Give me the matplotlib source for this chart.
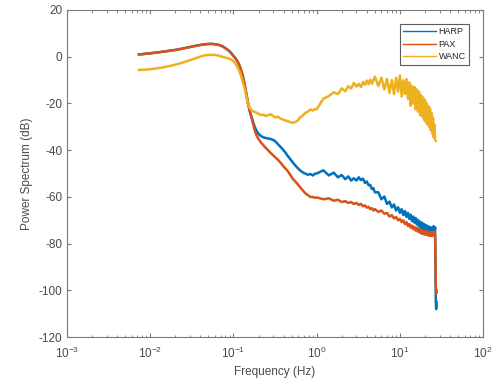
import numpy as np
import matplotlib
matplotlib.use("Agg")
import matplotlib.pyplot as plt
from matplotlib.lines import Line2D

plt.rcParams['font.family'] = ['Liberation Sans', 'DejaVu Sans']
plt.rcParams['mathtext.fontset'] = 'custom'
plt.rcParams['mathtext.rm'] = 'Liberation Sans'
plt.rcParams['mathtext.it'] = 'Liberation Sans'
plt.rcParams['axes.unicode_minus'] = False

series_names = ["HARP", "PAX", "WANC"]

freq = [
    0.0073, 0.008, 0.009, 0.010, 0.012, 0.014, 0.016, 0.018, 0.020, 0.023,
    0.026, 0.030, 0.034, 0.038, 0.043, 0.048, 0.053, 0.058, 0.064, 0.070,
    0.076, 0.082, 0.088, 0.094, 0.100, 0.106, 0.112, 0.118, 0.124, 0.130,
    0.136, 0.142, 0.148, 0.155, 0.162, 0.170, 0.180, 0.190, 0.200, 0.215,
    0.230, 0.245, 0.260, 0.280, 0.300, 0.320, 0.340, 0.365, 0.390, 0.420,
    0.450, 0.480, 0.510, 0.550, 0.590, 0.630, 0.680, 0.730, 0.780, 0.840,
    0.900, 0.960,
    1.0, 1.2, 1.4, 1.6, 1.8, 2.0, 2.2, 2.4, 2.6, 2.8,
    3.0, 3.2, 3.4, 3.6, 3.8, 4.0, 4.2, 4.4, 4.6, 4.8,
    5.0, 5.5, 6.0, 6.5, 7.0, 7.5, 8.0, 8.5, 9.0, 9.5,
    10.0, 10.5, 11.0, 11.5, 12.0, 12.5, 13.0, 13.5, 14.0, 14.5,
    15.0, 15.5, 16.0, 16.5, 17.0, 17.5, 18.0, 18.5, 19.0, 19.5,
    20.0, 20.5, 21.0, 21.5, 22.0, 22.5, 23.0, 23.5, 24.0, 24.5,
    25.0, 25.5, 26.0, 26.5, 27.0, 27.3, 27.5,
]

harp = [
    1.0, 1.1, 1.3, 1.5, 1.8, 2.1, 2.4, 2.7, 2.9, 3.3,
    3.7, 4.2, 4.6, 4.9, 5.2, 5.4, 5.5, 5.4, 5.2, 4.8,
    4.2, 3.4, 2.6, 1.5, 0.3, -0.8, -2.0, -3.8, -6.0, -8.5,
    -11.8, -15.5, -19.0, -22.5, -25.0, -27.3, -30.0, -31.8, -33.0, -34.0,
    -34.5, -34.8, -35.0, -35.2, -35.6, -36.3, -37.3, -38.5, -39.6, -41.0,
    -42.5, -43.8, -45.0, -46.4, -47.6, -48.6, -49.5, -50.0, -50.5, -50.2,
    -50.8, -50.0,
    -50.0, -48.6, -50.8, -49.6, -51.6, -50.6, -52.4, -51.2, -53.0, -52.0,
    -53.0, -51.6, -52.8, -52.2, -54.0, -53.4, -55.0, -54.8, -56.6, -56.2,
    -58.0, -58.0, -61.0, -59.8, -63.0, -62.0, -64.5, -63.2, -65.8, -64.4,
    -66.8, -65.2, -67.8, -66.0, -68.6, -66.8, -69.4, -67.6, -70.4, -68.4,
    -71.0, -69.0, -71.8, -69.8, -72.6, -70.6, -73.2, -71.0, -73.8, -71.6,
    -74.2, -72.0, -74.6, -72.4, -75.0, -72.8, -75.2, -73.0, -75.4, -73.2,
    -75.2, -72.5, -75.5, -73.0, -104.0, -108.0, -105.0,
]

pax = [
    1.0, 1.1, 1.3, 1.5, 1.8, 2.1, 2.4, 2.7, 2.9, 3.3,
    3.7, 4.2, 4.6, 4.9, 5.2, 5.4, 5.5, 5.4, 5.2, 4.8,
    4.2, 3.4, 2.6, 1.5, 0.3, -0.8, -2.0, -3.8, -6.0, -8.5,
    -11.8, -15.5, -19.0, -22.5, -25.2, -28.0, -31.5, -33.8, -35.2, -36.8,
    -38.0, -39.0, -40.0, -41.2, -42.2, -43.2, -44.0, -45.2, -46.5, -47.8,
    -49.0, -50.5, -52.0, -53.3, -54.5, -55.8, -57.2, -58.4, -59.2, -60.0,
    -60.0, -60.4,
    -60.2, -61.0, -60.6, -61.6, -61.2, -62.2, -61.8, -62.6, -62.2, -63.0,
    -62.6, -63.4, -63.0, -64.0, -63.6, -64.6, -64.2, -65.2, -64.8, -65.8,
    -65.2, -66.4, -65.8, -67.2, -66.8, -68.4, -67.8, -69.2, -68.6, -70.0,
    -69.4, -70.8, -70.0, -71.6, -70.8, -72.4, -71.6, -73.2, -72.2, -73.8,
    -72.8, -74.4, -73.2, -74.8, -73.6, -75.4, -74.0, -75.8, -74.4, -76.0,
    -74.6, -76.2, -74.8, -76.4, -75.0, -76.6, -75.0, -76.6, -75.0, -76.8,
    -75.2, -76.2, -74.8, -76.5, -97.0, -101.5, -100.0,
]

wanc = [
    -5.7, -5.6, -5.5, -5.3, -5.0, -4.6, -4.2, -3.8, -3.4, -2.8,
    -2.2, -1.5, -0.8, -0.2, 0.4, 0.7, 0.8, 0.8, 0.6, 0.2,
    -0.2, -0.5, -0.8, -1.3, -2.0, -3.0, -4.6, -6.3, -8.5, -11.0,
    -13.5, -16.5, -19.5, -21.5, -22.6, -23.2, -23.6, -24.0, -24.4, -25.0,
    -24.8, -25.4, -25.0, -24.6, -25.4, -26.0, -25.6, -26.4, -26.8, -27.3,
    -27.6, -28.0, -28.3, -28.0, -27.4, -26.0, -25.2, -24.0, -23.6, -22.6,
    -23.0, -22.4,
    -22.5, -18.0, -16.8, -15.2, -16.0, -13.5, -14.8, -12.6, -13.6, -11.2,
    -12.8, -11.6, -13.0, -10.8, -12.0, -10.2, -11.8, -9.8, -11.6, -10.0,
    -8.5, -12.5, -9.0, -14.0, -9.5, -15.5, -10.0, -16.0, -9.0, -15.0,
    -8.0, -17.0, -10.0, -16.0, -9.5, -18.0, -11.0, -21.0, -12.5, -20.0,
    -13.0, -22.5, -14.0, -23.5, -15.0, -25.0, -16.5, -25.5, -17.5, -27.0,
    -18.5, -28.0, -20.0, -29.0, -21.0, -30.0, -22.0, -31.5, -24.0, -33.0,
    -26.0, -34.5, -29.0, -35.5, -36.0, np.nan, np.nan,
]

colors = ["#0072BD", "#D95319", "#EDB120"]

fig = plt.figure(figsize=(4.97, 3.84), dpi=100)
ax = fig.add_axes([0.135, 0.122, 0.837, 0.852])

for name, vals, c in zip(series_names, [harp, pax, wanc], colors):
    ax.plot(freq, vals, color=c, lw=1.8, label=name, solid_joinstyle='round')

ax.set_xscale('log')
ax.set_xlim(1e-3, 1e2)
ax.set_ylim(-120, 20)
ax.set_yticks(np.arange(-120, 21, 20))
ax.set_xticks([1e-3, 1e-2, 1e-1, 1e0, 1e1, 1e2])

axcol = '#7a7a7a'
for s in ax.spines.values():
    s.set_color(axcol)
    s.set_linewidth(0.8)
ax.tick_params(which='both', direction='in', top=True, right=True,
               colors=axcol, labelcolor='#4a4a4a', labelsize=8.5)
ax.tick_params(which='major', length=3)
ax.tick_params(which='minor', length=1.8)
ax.tick_params(axis='x', which='major', pad=6)

ax.set_xlabel('Frequency (Hz)', fontsize=8.5, color='#4a4a4a', labelpad=4)
ax.set_ylabel('Power Spectrum (dB)', fontsize=8.5, color='#4a4a4a', labelpad=4)

handles = [Line2D([0], [0], color=c, lw=1.0) for c in colors]
leg = ax.legend(handles, series_names, loc='upper right', fontsize=6.5,
                frameon=True, fancybox=False, edgecolor='#333333',
                bbox_to_anchor=(0.966, 0.957), borderaxespad=0.0,
                handlelength=3.6, handletextpad=0.3, borderpad=0.35,
                labelspacing=0.4)
leg.get_frame().set_linewidth(0.8)
for t in leg.get_texts():
    t.set_color('#222222')

fig.savefig('out.png', dpi=100)
